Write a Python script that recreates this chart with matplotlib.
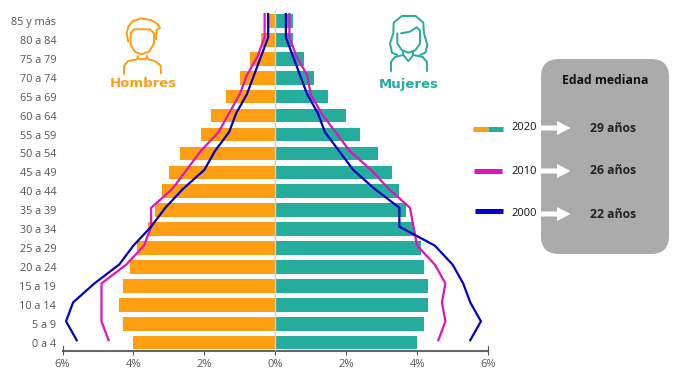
import numpy as np
import matplotlib
matplotlib.use("Agg")
import matplotlib.pyplot as plt
from matplotlib.patches import FancyBboxPatch, Polygon

# Age groups, youngest first
AGES = ["0 a 4", "5 a 9", "10 a 14", "15 a 19", "20 a 24", "25 a 29", "30 a 34", "35 a 39",
        "40 a 44", "45 a 49", "50 a 54", "55 a 59", "60 a 64", "65 a 69", "70 a 74",
        "75 a 79", "80 a 84", "85 y más"]

# Share of population (%)
men_2020 = [4.0, 4.3, 4.4, 4.3, 4.1, 3.9, 3.6, 3.4, 3.2, 3.0, 2.7, 2.1, 1.8, 1.4, 1.0, 0.7, 0.4, 0.2]
women_2020 = [4.0, 4.2, 4.3, 4.3, 4.2, 4.1, 3.9, 3.7, 3.5, 3.3, 2.9, 2.4, 2.0, 1.5, 1.1, 0.8, 0.5, 0.5]
men_2010 = [4.7, 4.9, 4.9, 4.9, 4.2, 3.7, 3.5, 3.5, 2.9, 2.5, 2.1, 1.6, 1.3, 1.0, 0.8, 0.5, 0.3, 0.3]
women_2010 = [4.6, 4.8, 4.7, 4.8, 4.5, 4.0, 3.9, 3.8, 3.2, 2.7, 2.1, 1.7, 1.3, 1.0, 0.9, 0.6, 0.4, 0.4]
men_2000 = [5.6, 5.9, 5.7, 5.1, 4.4, 4.0, 3.5, 3.1, 2.6, 2.0, 1.7, 1.3, 1.1, 0.8, 0.6, 0.4, 0.2, 0.2]
women_2000 = [5.5, 5.8, 5.5, 5.3, 5.0, 4.5, 3.5, 3.5, 2.8, 2.2, 1.8, 1.4, 1.2, 0.9, 0.7, 0.5, 0.3, 0.3]

# Legend panel
YEARS = ["2020", "2010", "2000"]
MEDIAN_AGES = ["29 años", "26 años", "22 años"]

ORANGE = "#FF9E10"
TEAL = "#24AC9C"
MAGENTA = "#E014BE"
BLUE = "#0000C8"
GREY = "#ABABAB"
TEXT = "#555555"

plt.rcParams["font.family"] = ["Open Sans", "DejaVu Sans"]

W, H = 690, 390
fig = plt.figure(figsize=(W / 100, H / 100), dpi=100)

# Main axes placed so that -6..6 and the rows land where the reference has them
ax = fig.add_axes([62.5 / W, 1 - 351 / H, 425.5 / W, 341 / H])
rows = np.arange(len(AGES))
ax.barh(rows, -np.array(men_2020), height=0.72, color=ORANGE, zorder=2)
ax.barh(rows, women_2020, height=0.72, color=TEAL, zorder=2)
ax.axvline(0, color="#D0D0C8", lw=1, zorder=3)

# Lines sit a bit above the bar centres, and run past the top row
line_y = rows + 0.13
line_y[-1] = 17.37
ax.plot(-np.array(men_2010), line_y, color=MAGENTA, lw=1.6, zorder=4)
ax.plot(women_2010, line_y, color=MAGENTA, lw=1.6, zorder=4)
ax.plot(-np.array(men_2000), line_y, color=BLUE, lw=1.6, zorder=5)
ax.plot(women_2000, line_y, color=BLUE, lw=1.6, zorder=5)

ax.set_xlim(-6, 6)
ax.set_ylim(-0.44, 17.58)
ax.set_xticks([-6, -4, -2, 0, 2, 4, 6])
ax.set_xticklabels(["6%", "4%", "2%", "0%", "2%", "4%", "6%"], fontsize=8, color=TEXT)
ax.tick_params(axis="x", length=3, width=0.8, color="#555555", pad=3)
ax.set_yticks(rows)
ax.set_yticklabels(AGES, fontsize=7.8, color=TEXT)
ax.tick_params(axis="y", length=0, pad=4.5)
for side in ["top", "left", "right"]:
    ax.spines[side].set_visible(False)
ax.spines["bottom"].set_color("#666666")
ax.spines["bottom"].set_linewidth(1.5)
ax.patch.set_alpha(0)

# Overlay in pixel coordinates for the panel, icons and legend
ov = fig.add_axes([0, 0, 1, 1], zorder=10)
ov.set_xlim(0, W)
ov.set_ylim(H, 0)
ov.axis("off")

# Longer end ticks at +-6%
ov.plot([62.5, 62.5], [346, 351], color="#555555", lw=0.8)
ov.plot([488, 488], [346, 351], color="#555555", lw=0.8)

ov.add_patch(FancyBboxPatch((559, 77), 92, 159, boxstyle="round,pad=18,rounding_size=18",
                            fc=GREY, ec="none", mutation_scale=1))
ov.text(605, 80.5, "Edad mediana", ha="center", va="center", fontsize=8.8,
        fontweight="bold", color="#111111")

legend_y = [128, 171, 214]
for year, median, y in zip(YEARS, MEDIAN_AGES, legend_y):
    ov.text(524, y, year, ha="center", va="center", fontsize=8, color="#111111")
    ov.text(613, y, median, ha="center", va="center", fontsize=8.8, fontweight="bold", color="#222222")
    ov.add_patch(Polygon([(541, y - 2.5), (557, y - 2.5), (557, y - 7), (570.5, y),
                          (557, y + 7), (557, y + 2.5), (541, y + 2.5)], fc="white", ec="none"))

# Legend swatches
ov.plot([473, 488], [129, 129], color=ORANGE, lw=3.6, solid_capstyle="butt")
ov.plot([488, 503], [129, 129], color=TEAL, lw=3.6, solid_capstyle="butt")
ov.plot([474, 502], [171, 171], color=MAGENTA, lw=3.6, solid_capstyle="butt")
ov.plot([475, 503], [211, 211], color=BLUE, lw=3.6, solid_capstyle="butt")


def icon(parts, x0, color):
    for part in parts:
        pts = np.array(part, dtype=float) / 3
        ov.plot(pts[:, 0] + x0, pts[:, 1], color=color, lw=1.4,
                solid_joinstyle="round", solid_capstyle="round")


man = [
    [(385, 125), (380, 100), (385, 80), (398, 63), (425, 55), (452, 60), (470, 70), (480, 83),
     (470, 90), (468, 118)],
    [(392, 100), (402, 88), (450, 88), (462, 100), (462, 130), (447, 155), (425, 163),
     (405, 155), (392, 135), (392, 100)],
    [(372, 222), (372, 197), (385, 183), (410, 178), (414, 168)],
    [(440, 168), (445, 178), (465, 183), (482, 197), (483, 220)],
    [(414, 175), (425, 178), (440, 175)],
]
woman = [
    [(382, 165), (366, 158), (360, 130), (370, 100), (371, 68), (395, 48), (437, 48), (460, 68),
     (462, 100), (472, 135), (466, 158), (450, 165)],
    [(382, 100), (382, 130), (395, 150), (415, 158), (437, 150), (450, 130), (450, 92), (440, 82),
     (420, 95), (393, 100)],
    [(363, 213), (363, 186), (375, 171), (400, 165), (415, 183), (430, 165), (458, 171),
     (471, 186), (471, 213)],
    [(400, 155), (400, 165)],
    [(430, 155), (430, 165)],
]
icon(man, 0, ORANGE)
icon(woman, 270, TEAL)
ov.text(143, 83.5, "Hombres", ha="center", va="center", fontsize=9.5, fontweight="bold",
        color=ORANGE, family="DejaVu Sans")
ov.text(409, 84.5, "Mujeres", ha="center", va="center", fontsize=9.5, fontweight="bold",
        color=TEAL, family="DejaVu Sans")

fig.savefig("out.png", dpi=100)
